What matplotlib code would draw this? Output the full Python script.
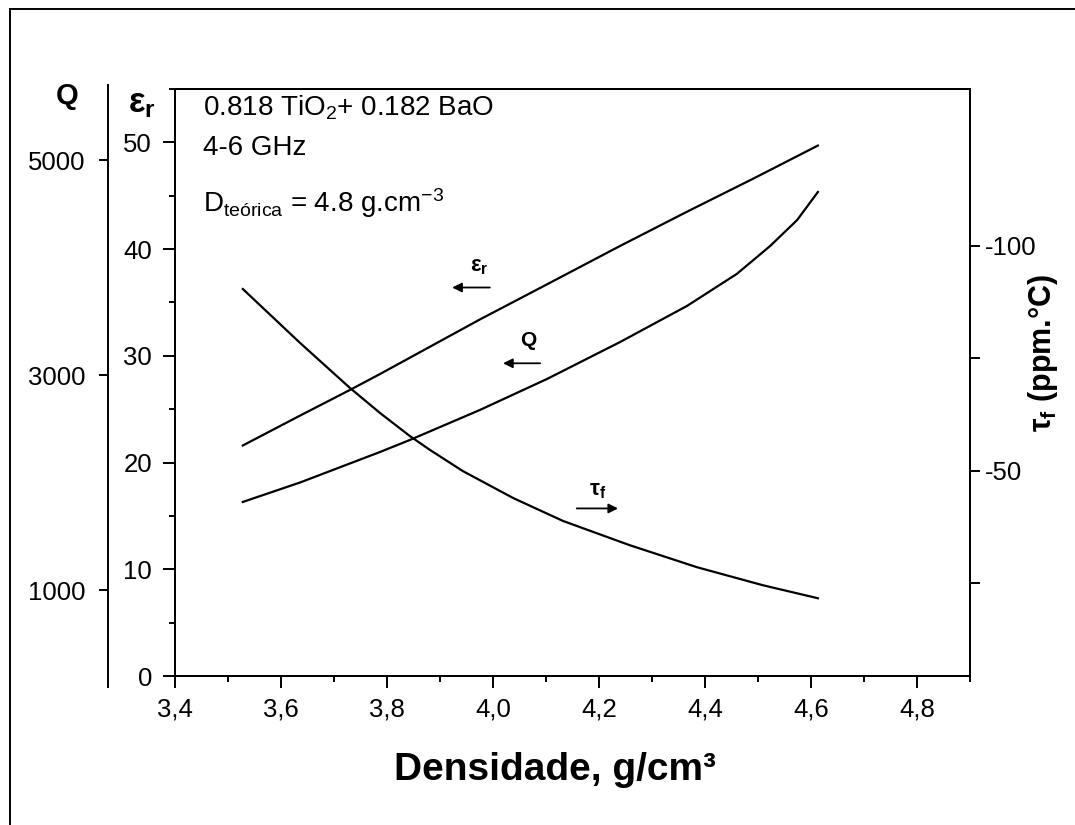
import matplotlib.pyplot as plt
from matplotlib.lines import Line2D
from matplotlib.ticker import MultipleLocator, FixedLocator, FuncFormatter

plt.rcParams['font.family'] = ['Liberation Sans', 'DejaVu Sans']
plt.rcParams['mathtext.fontset'] = 'custom'
plt.rcParams['mathtext.rm'] = 'Liberation Sans'
plt.rcParams['mathtext.it'] = 'Liberation Sans'
plt.rcParams['mathtext.bf'] = 'Liberation Sans:bold'
plt.rcParams['axes.unicode_minus'] = False

# dielectric constant vs density
dens_er = [3.528, 3.636, 3.730, 3.787, 3.975, 4.102, 4.240, 4.366, 4.491, 4.613]
er = [21.6, 24.4, 26.8, 28.3, 33.4, 36.7, 40.3, 43.5, 46.6, 49.7]

# quality factor vs density
dens_q = [3.528, 3.636, 3.787, 3.843, 3.975, 4.102, 4.240, 4.366, 4.460, 4.523, 4.574, 4.613]
q = [1819, 2000, 2284, 2395, 2674, 2963, 3307, 3642, 3940, 4200, 4442, 4702]

# temperature coefficient of resonant frequency vs density
dens_tau = [3.528, 3.636, 3.730, 3.787, 3.843, 3.881, 3.943, 4.038, 4.132, 4.258, 4.385, 4.509, 4.613]
tau = [-90.4, -78.4, -68.4, -62.8, -57.7, -54.6, -49.9, -43.9, -38.8, -33.4, -28.5, -24.5, -21.6]

x_ticks = [3.4, 3.6, 3.8, 4.0, 4.2, 4.4, 4.6, 4.8]
er_ticks = [0, 10, 20, 30, 40, 50]
q_ticks = [1000, 3000, 5000]
tau_ticks = [-100, -50]
tau_minor = [-75, -25]

W, H = 1075, 825
fig = plt.figure(figsize=(W / 100, H / 100), dpi=100)


def box(x0, y0, x1, y1):
    # pixel box (top-left origin) -> figure fraction rect
    return [x0 / W, 1 - y1 / H, (x1 - x0) / W, (y1 - y0) / H]


lw = 1.4
line_kw = dict(color='black', lw=1.6, solid_joinstyle='round')

ax = fig.add_axes(box(175, 89, 970, 676))
ax.set_xlim(3.4, 4.9)
ax.set_ylim(0, 55)
for s in ax.spines.values():
    s.set_linewidth(lw)
ax.xaxis.set_major_locator(FixedLocator(x_ticks))
ax.xaxis.set_minor_locator(MultipleLocator(0.1))
ax.xaxis.set_major_formatter(FuncFormatter(lambda v, p: f'{v:.1f}'.replace('.', ',')))
ax.yaxis.set_major_locator(FixedLocator(er_ticks))
ax.yaxis.set_minor_locator(MultipleLocator(5))
ax.tick_params(which='major', direction='out', length=8.6, width=lw, labelsize=18.5)
ax.tick_params(which='minor', direction='out', length=4, width=lw)
ax.tick_params(axis='x', which='major', pad=7)
ax.tick_params(axis='y', which='major', pad=8)
ax.plot(dens_er, er, **line_kw)

# Q curve on its own scale
axq = ax.twinx()
axq.set_ylim(200, 5660)
axq.axis('off')
axq.plot(dens_q, q, **line_kw)

# tau_f on the right, inverted
axt = ax.twinx()
axt.set_ylim(-4.3, -134.9)
axt.yaxis.set_major_locator(FixedLocator(tau_ticks))
axt.yaxis.set_minor_locator(FixedLocator(tau_minor))
axt.tick_params(which='both', direction='out', length=7, width=lw, labelsize=18.5, pad=4)
for s in axt.spines.values():
    s.set_linewidth(lw)
axt.plot(dens_tau, tau, **line_kw)

# detached Q scale
qs = fig.add_axes(box(108, 85, 109, 687))
qs.set_ylim(98, 5698)
for k in ['top', 'right', 'bottom']:
    qs.spines[k].set_visible(False)
qs.spines['left'].set_linewidth(lw)
qs.patch.set_visible(False)
qs.set_xticks([])
qs.yaxis.set_major_locator(FixedLocator(q_ticks))
qs.tick_params(axis='y', direction='out', length=6.5, width=lw, labelsize=18.5, pad=10)

# axis titles
fig.text(67 / W, 1 - 96 / H, 'Q', fontsize=21, fontweight='bold', ha='center', va='center')
fig.text(128 / W, 1 - 104 / H, r'$\mathbf{ε_r}$', fontsize=25, ha='left', va='center')
fig.text(1043 / W, 1 - 353 / H, r'$\mathbf{τ_f}$ (ppm.°C)', fontsize=22, fontweight='bold',
         rotation=90, ha='center', va='center')
fig.text(555 / W, 1 - 770 / H, 'Densidade, g/cm³', fontsize=28, fontweight='bold',
         ha='center', va='center')

# composition notes
ax.text(0.035, 0.992, r'0.818 TiO$_2$+ 0.182 BaO', transform=ax.transAxes, fontsize=20,
        ha='left', va='top')
ax.text(0.035, 0.922, '4-6 GHz', transform=ax.transAxes, fontsize=20, ha='left', va='top')
ax.text(0.035, 0.835, r'D$_{\mathrm{teórica}}$ = 4.8 g.cm$^{-3}$', transform=ax.transAxes,
        fontsize=20, ha='left', va='top')

# curve tags with arrows toward their axes
arrow = dict(arrowstyle='-|>', color='black', lw=1.3, mutation_scale=14, shrinkA=0, shrinkB=0)
ax.annotate('', xy=(3.923, 36.4), xytext=(3.994, 36.4), arrowprops=arrow)
ax.text(3.974, 38.4, r'$\mathbf{ε_r}$', fontsize=16, ha='center', va='center')
ax.annotate('', xy=(4.019, 29.3), xytext=(4.089, 29.3), arrowprops=arrow)
ax.text(4.066, 31.4, 'Q', fontsize=15, fontweight='bold', ha='center', va='center')
ax.annotate('', xy=(4.236, 15.7), xytext=(4.158, 15.7), arrowprops=arrow)
ax.text(4.198, 17.4, r'$\mathbf{τ_f}$', fontsize=16, ha='center', va='center')

# outer frame (top and left edges)
fig.add_artist(Line2D([10 / W, 1], [1 - 9 / H, 1 - 9 / H], color='black', lw=lw))
fig.add_artist(Line2D([10 / W, 10 / W], [0, 1 - 9 / H], color='black', lw=lw))

fig.savefig('out.png', dpi=100)
